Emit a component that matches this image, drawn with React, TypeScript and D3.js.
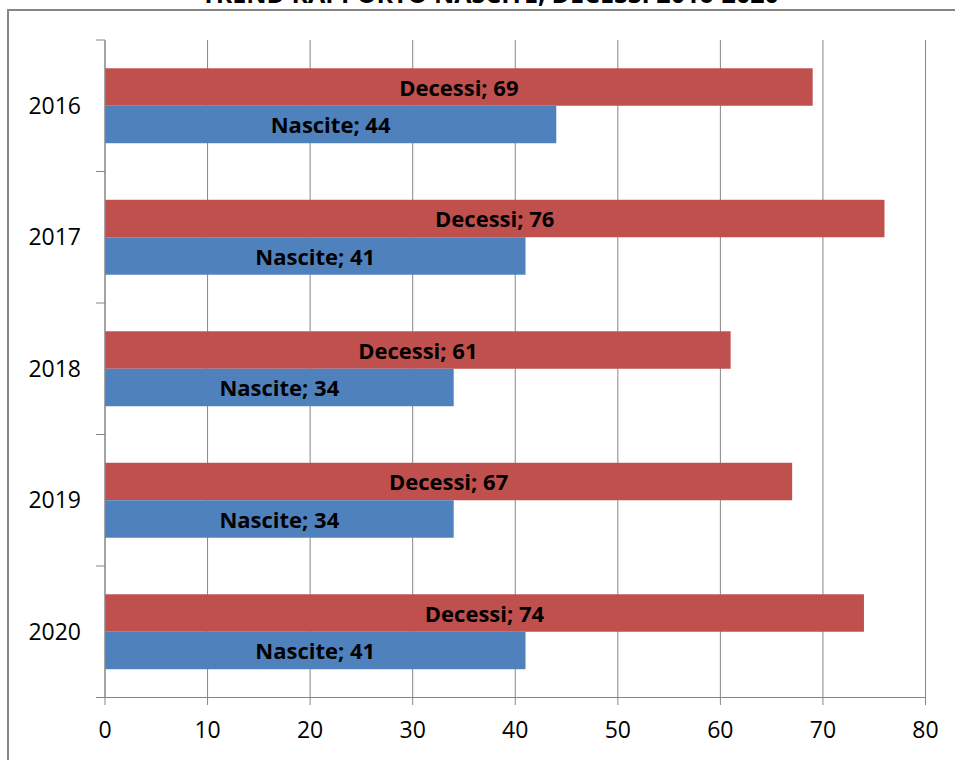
import React from "react";
import * as d3 from "d3";

const years = ["2016", "2017", "2018", "2019", "2020"];
const decessi = [69, 76, 61, 67, 74];
const nascite = [44, 41, 34, 34, 41];
const xTicks = [0, 10, 20, 30, 40, 50, 60, 70, 80];
const seriesNames = ["Decessi", "Nascite"];
const title = "TREND RAPPORTO NASCITE, DECESSI 2016-2020";

const W = 955;
const H = 760;
const FONT = "'Open Sans', 'Liberation Sans', sans-serif";
const GRID = "#868686";
const RED = "#C0504D";
const BLUE = "#4F81BD";

export default function App() {
  const x = d3.scaleLinear().domain([0, 80]).range([105, 925.5]);
  const y = d3.scaleBand().domain(years).range([40, 697.5]).padding(0);
  const step = y.step();
  const barH = step * 0.285;
  const sub = d3.scaleBand().domain(seriesNames).range([0, barH * 2]);
  const values = [decessi, nascite];
  const colors = [RED, BLUE];
  const bounds = d3.range(years.length + 1).map((i) => 40 + i * step);

  return (
    <svg
      width={W}
      height={H}
      style={{ position: "absolute", left: 0, top: 0, background: "#fff" }}
      fontFamily={FONT}
    >
      <rect x={8} y={10} width={W + 20} height={H + 20} fill="#fff" stroke={GRID} strokeWidth={2} />
      <text x={490} y={3} textAnchor="middle" fontWeight="bold" fontSize={25} fill="#000">
        {title}
      </text>
      {xTicks.map((t) => (
        <line key={"g" + t} x1={x(t)} x2={x(t)} y1={40} y2={705} stroke={GRID} strokeWidth={1} />
      ))}
      {years.map((yr, i) => {
        const c = (y(yr) as number) + step / 2;
        const top = c - barH;
        return (
          <g key={yr}>
            {seriesNames.map((s, j) => (
              <rect
                key={s}
                x={x(0)}
                y={top + (sub(s) as number)}
                width={x(values[j][i]) - x(0)}
                height={sub.bandwidth()}
                fill={colors[j]}
              />
            ))}
            {seriesNames.map((s, j) => (
              <text
                key={"l" + s}
                x={(x(0) + x(values[j][i])) / 2}
                y={top + (sub(s) as number) + sub.bandwidth() / 2 + 1}
                dy="0.35em"
                textAnchor="middle"
                fontWeight="bold"
                fontSize={22}
                fill="#000"
              >
                {s + "; " + values[j][i]}
              </text>
            ))}
            <text x={81} y={c} dy="0.35em" textAnchor="end" fontSize={23} fill="#000">
              {yr}
            </text>
          </g>
        );
      })}
      <line x1={x(0)} x2={x(0)} y1={40} y2={697.5} stroke={GRID} strokeWidth={1} />
      <line x1={96} x2={x(80)} y1={697.5} y2={697.5} stroke={GRID} strokeWidth={1} />
      {bounds.map((b, i) => (
        <line key={"t" + i} x1={96} x2={x(0)} y1={b} y2={b} stroke={GRID} strokeWidth={1} />
      ))}
      {xTicks.map((t) => (
        <text key={"x" + t} x={x(t)} y={730} dy="0.35em" textAnchor="middle" fontSize={23} fill="#000">
          {t}
        </text>
      ))}
    </svg>
  );
}
